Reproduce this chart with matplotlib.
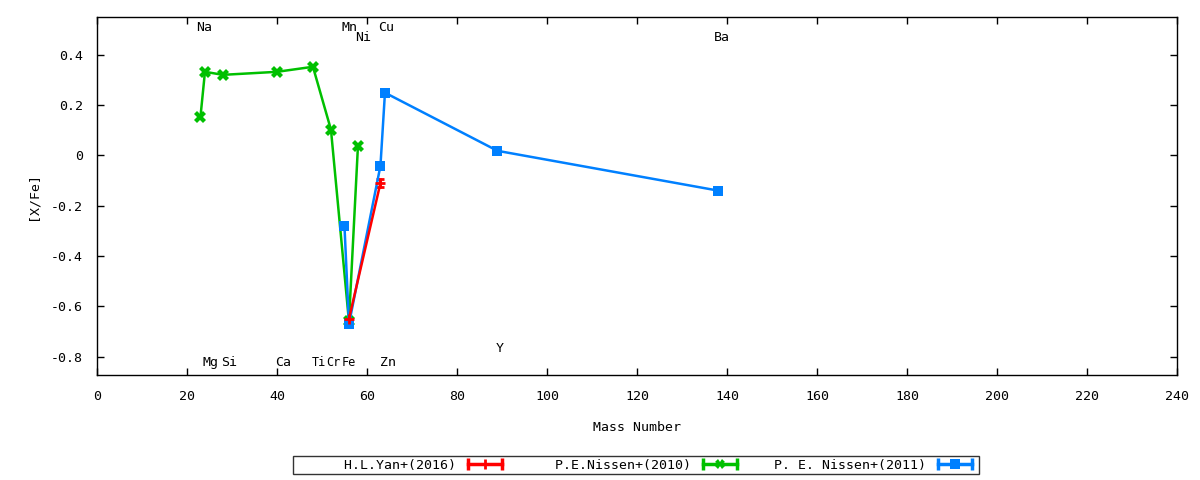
import matplotlib
matplotlib.use("Agg")
import matplotlib.pyplot as plt
from matplotlib.lines import Line2D
from matplotlib.legend_handler import HandlerLine2D, HandlerTuple

plt.rcParams['font.family'] = ['DejaVu Sans Mono', 'DejaVu Sans']
plt.rcParams['axes.unicode_minus'] = False
plt.rcParams['font.size'] = 9.5

# H.L.Yan+(2016)
yan_mass = [56, 63]
yan_val = [-0.65, -0.11]
yan_err = [0.0, 0.015]

# P.E.Nissen+(2010)
n10_mass = [23, 24, 28, 40, 48, 52, 56, 58]
n10_val = [0.153, 0.332, 0.32, 0.332, 0.352, 0.102, -0.66, 0.038]

# P. E. Nissen+(2011)
n11_mass = [55, 56, 63, 64, 89, 138]
n11_val = [-0.28, -0.671, -0.041, 0.249, 0.018, -0.14]

# element labels
elem_names = ["Na", "Mn", "Ni", "Cu", "Ba", "Mg", "Si", "Ca", "Ti", "Cr", "Fe", "Zn", "Y"]
elem_x = [22.1, 54.3, 57.3, 62.5, 137.0, 23.4, 27.5, 39.6, 47.8, 51.0, 54.4, 62.9, 88.5]
elem_y = [0.51, 0.51, 0.467, 0.51, 0.467, -0.822, -0.822, -0.822, -0.822, -0.822, -0.822, -0.822, -0.767]

labels = ["H.L.Yan+(2016)", "P.E.Nissen+(2010)", "P. E. Nissen+(2011)"]
colors = ["#ff0000", "#00c000", "#0080ff"]
markers = ["+", "X", "s"]

fig = plt.figure(figsize=(12, 4.8), dpi=100)
ax = fig.add_axes([0.0808, 0.21875, 0.9, 0.7459])

ax.errorbar(yan_mass, yan_val, yerr=yan_err, color=colors[0], marker=markers[0],
            ms=7, mew=2, lw=1.8, capsize=3, elinewidth=1.8, capthick=1.8)
ax.plot(n10_mass, n10_val, color=colors[1], marker=markers[1], ms=8.5, mew=0, lw=1.8)
ax.plot(n11_mass, n11_val, color=colors[2], marker=markers[2], ms=7, mew=0, lw=1.8)

for name, x, y in zip(elem_names, elem_x, elem_y):
    ax.text(x, y, name, ha='left', va='center', fontsize=8.5 if name in ("Ti", "Cr", "Fe") else 9.5)

ax.set_xlim(0, 240)
ax.set_ylim(-0.873, 0.55)
ax.set_xticks(range(0, 241, 20))
ax.set_yticks([-0.8, -0.6, -0.4, -0.2, 0, 0.2, 0.4])
ax.yaxis.set_major_formatter(plt.FuncFormatter(lambda v, p: f"{v:g}"))
ax.tick_params(direction='in', length=5, top=True, right=True, width=1)
ax.tick_params(axis='x', pad=11)
ax.tick_params(axis='y', pad=10)
for s in ax.spines.values():
    s.set_linewidth(1)
ax.set_xlabel("Mass Number", labelpad=13)
ax.set_ylabel("[X/Fe]", labelpad=8)

handles = []
hmap = {}
for c, m in zip(colors, markers):
    caps = Line2D([], [], color=c, lw=2.5, marker='|', ms=9, mew=2.5)
    mid = Line2D([], [], color=c, lw=0, marker=m, ms=7, mew=2 if m == '+' else 0)
    hmap[caps] = HandlerLine2D(numpoints=2)
    hmap[mid] = HandlerLine2D(numpoints=1)
    handles.append((caps, mid))
hmap[tuple] = HandlerTuple(ndivide=1, pad=0)

width = max(len(t) for t in labels) + 1
padded = [t.rjust(width) for t in labels]
leg = fig.legend(handles, padded, handler_map=hmap, ncol=3, loc='center',
                 bbox_to_anchor=(0.53, 0.031), markerfirst=False, handlelength=3.2,
                 columnspacing=1.9, handletextpad=0.6, fancybox=False,
                 edgecolor='black', borderpad=0.2, borderaxespad=0)
leg.get_frame().set_linewidth(1)

fig.savefig("out.png")
